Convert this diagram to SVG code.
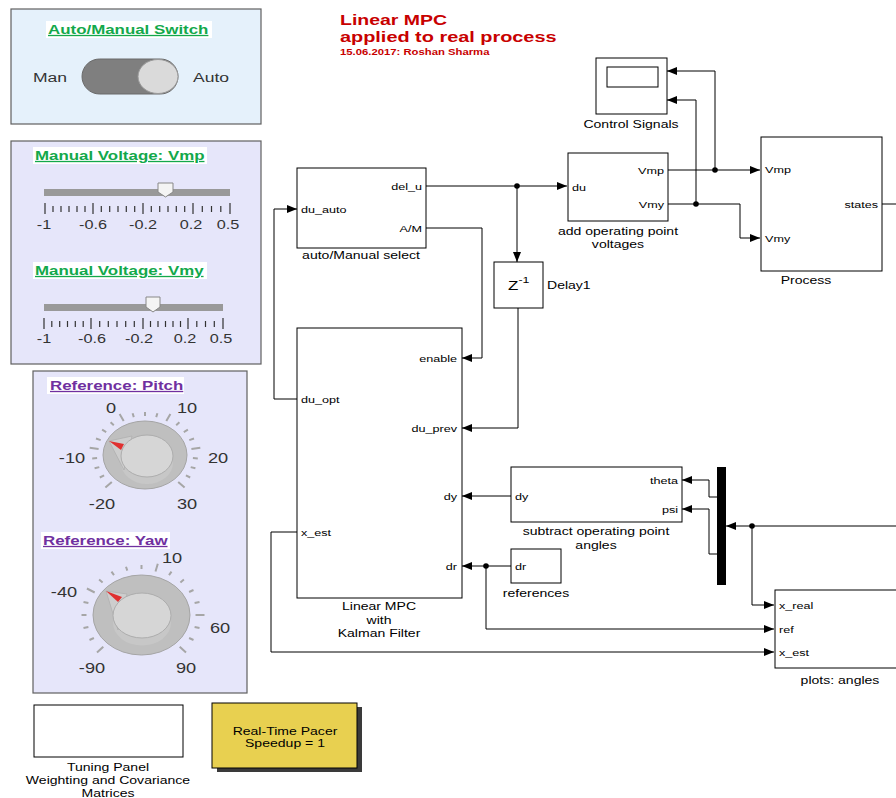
<svg xmlns="http://www.w3.org/2000/svg" width="896" height="798" viewBox="0 0 896 798">
<defs>
<marker id="ah" markerUnits="userSpaceOnUse" markerWidth="10" markerHeight="8" refX="10" refY="4" orient="auto">
<path d="M0,0 L10,4 L0,8 z" fill="#000"/>
</marker>
<style>
text{font-family:"Liberation Sans",Arial,Helvetica,sans-serif;fill:#000}
.port{font-size:9.7px}
.lbl{font-size:10.8px;text-anchor:middle}
.e{text-anchor:end}
.m{text-anchor:middle}
.blk{fill:#fff;stroke:#000;stroke-width:1}
.ln{fill:none;stroke:#000;stroke-width:1}
.arr{marker-end:url(#ah)}
.panel{stroke:#606060;stroke-width:1.2}
.ptitle{font-size:13px;font-weight:bold;text-decoration:underline}
.g{fill:#13a84b}
.pu{fill:#7030a0}
.sl{font-size:12.5px;fill:#333;text-anchor:middle}
.kl{font-size:14px;fill:#333;text-anchor:middle}
.tk{stroke:#333;stroke-width:1.2}
.ktk{stroke:#a6a6a6;stroke-width:2}
.dot{fill:#000}
</style>
</defs>
<rect x="0" y="0" width="896" height="798" fill="#fff"/>

<!-- Title -->
<g id="title">
<text transform="translate(340 25) scale(1.3 1)" style="font-size:15px;font-weight:bold;fill:#c80000">Linear MPC</text>
<text transform="translate(340 42) scale(1.3 1)" style="font-size:15.3px;font-weight:bold;fill:#c80000">applied to real process</text>
<text transform="translate(340 55) scale(1.3 1)" style="font-size:8.7px;font-weight:bold;fill:#c80000">15.06.2017: Roshan Sharma</text>
</g>

<!-- Auto/Manual switch panel -->
<g id="panel-switch">
<rect class="panel" x="11" y="9" width="250" height="115" fill="#e5f1fb"/>
<rect x="46" y="21" width="166" height="17" fill="#fff"/>
<text class="ptitle g" transform="translate(48 34) scale(1.3 1)">Auto/Manual Switch</text>
<text transform="translate(33 82) scale(1.3 1)" style="font-size:13.5px;fill:#333">Man</text>
<text transform="translate(193 82) scale(1.3 1)" style="font-size:13.5px;fill:#333">Auto</text>
<rect x="82" y="59" width="96" height="35" rx="17.5" ry="17.5" fill="#7f7f7f" stroke="#6a6a6a"/>
<ellipse cx="158" cy="76.5" rx="20" ry="17" fill="#dadada" stroke="#9a9a9a"/>
</g>

<!-- Manual voltage panel -->
<g id="panel-voltage">
<rect class="panel" x="11" y="141" width="250" height="223" fill="#e6e6fa"/>
<rect x="33" y="147" width="174" height="17" fill="#fff"/>
<text class="ptitle g" transform="translate(35 160) scale(1.3 1)">Manual Voltage: Vmp</text>
<rect x="44" y="189" width="186" height="7" fill="#999"/>
<path d="M158,183 H173 V192 L165.5,197 L158,192 Z" fill="#f4f4f4" stroke="#888"/>
<path class="tk" d="M45,203v11 M93,203v11 M143,203v11 M193,203v11 M230,203v11 M53,206v6 M61,206v6 M69,206v6 M77,206v6 M85,206v6 M101.3,206v6 M109.7,206v6 M118,206v6 M126.3,206v6 M134.7,206v6 M151.3,206v6 M159.7,206v6 M168,206v6 M176.3,206v6 M184.7,206v6 M202.3,206v6 M211.5,206v6 M220.8,206v6"/>
<text class="sl" transform="translate(44 229) scale(1.3 1)">-1</text>
<text class="sl" transform="translate(93 229) scale(1.3 1)">-0.6</text>
<text class="sl" transform="translate(143 229) scale(1.3 1)">-0.2</text>
<text class="sl" transform="translate(191 229) scale(1.3 1)">0.2</text>
<text class="sl" transform="translate(228 229) scale(1.3 1)">0.5</text>
<rect x="33" y="262" width="174" height="17" fill="#fff"/>
<text class="ptitle g" transform="translate(35 275) scale(1.3 1)">Manual Voltage: Vmy</text>
<rect x="44" y="304" width="179" height="7" fill="#999"/>
<path d="M146,297 H160 V307 L153,312 L146,307 Z" fill="#f4f4f4" stroke="#888"/>
<path class="tk" d="M44,318v11 M91,318v11 M143,318v11 M188,318v11 M223,318v11 M51.8,321v6 M59.7,321v6 M67.5,321v6 M75.3,321v6 M83.2,321v6 M99.7,321v6 M108.3,321v6 M117,321v6 M125.7,321v6 M134.3,321v6 M150.5,321v6 M158,321v6 M165.5,321v6 M173,321v6 M180.5,321v6 M196.8,321v6 M205.5,321v6 M214.3,321v6"/>
<text class="sl" transform="translate(44 343) scale(1.3 1)">-1</text>
<text class="sl" transform="translate(92 343) scale(1.3 1)">-0.6</text>
<text class="sl" transform="translate(139 343) scale(1.3 1)">-0.2</text>
<text class="sl" transform="translate(185 343) scale(1.3 1)">0.2</text>
<text class="sl" transform="translate(221 343) scale(1.3 1)">0.5</text>
</g>

<!-- Reference panel -->
<g id="panel-reference">
<rect class="panel" x="33" y="371" width="214" height="322" fill="#e6e6fa"/>
<rect x="47" y="377" width="137" height="17" fill="#fff"/>
<text class="ptitle pu" transform="translate(50 390) scale(1.3 1)">Reference: Pitch</text>
<ellipse cx="145" cy="455" rx="42" ry="34" fill="#bfbfbf" stroke="#a5a5a5"/>
<path class="ktk" d="M111.8,481.9L105.4,487.5 M104.1,475.4L99.8,477.5 M99.3,467.1L94.6,468.3 M97.1,458.1L92.2,458.4 M98.6,449.1L89.7,447.8 M100.7,440.1L96,438.5 M106.2,432.1L102.1,429.7 M113.8,425.3L110.6,422.3 M123.7,421.1L119.6,414 M133.8,417.1L132.6,413.2 M145,416L145,412 M156.2,417.1L157.4,413.2 M166.3,421.1L170.4,414 M176.2,425.3L179.4,422.3 M183.8,432.1L187.9,429.7 M189.3,440.1L194,438.5 M191.4,449.1L200.3,447.8 M192.9,458.1L197.8,458.4 M190.7,467.1L195.4,468.3 M185.9,475.4L190.2,477.5 M178.2,481.9L184.6,487.5"/>
<ellipse cx="147" cy="463" rx="26" ry="21" fill="#c7c7c7"/>
<path d="M109,441 L132,436 L124,470 Z" fill="#cdcdcd" stroke="#b0b0b0" stroke-width="0.8"/>
<ellipse cx="147" cy="456" rx="26" ry="21" fill="#d6d6d6" stroke="#adadad"/>
<path d="M109,441 L124,444 L121,450 Z" fill="#e03030"/>
<text class="kl" transform="translate(111 413) scale(1.3 1)">0</text>
<text class="kl" transform="translate(187 413) scale(1.3 1)">10</text>
<text class="kl" transform="translate(72 463) scale(1.3 1)">-10</text>
<text class="kl" transform="translate(218 463) scale(1.3 1)">20</text>
<text class="kl" transform="translate(102 509) scale(1.3 1)">-20</text>
<text class="kl" transform="translate(187 509) scale(1.3 1)">30</text>

<rect x="41" y="532" width="129" height="17" fill="#fff"/>
<text class="ptitle pu" transform="translate(43 545) scale(1.3 1)">Reference: Yaw</text>
<ellipse cx="141.5" cy="615" rx="48.5" ry="40" fill="#bfbfbf" stroke="#a5a5a5"/>
<path class="ktk" d="M103.3,646.8L97,652.5 M93.9,638L89.5,640 M88.4,626.9L83.5,627.9 M86.5,615L81.5,615 M88.4,603.1L83.5,602.1 M94.7,592.5L86.9,588.5 M102.6,582.5L99.1,579.6 M114,575.2L111.5,571.7 M127.3,570.6L126,566.7 M141.5,569L141.5,565 M155.5,571.5L157.8,563.8 M169,575.2L171.5,571.7 M180.4,582.5L183.9,579.6 M189.1,592L193.5,590 M194.6,603.1L199.5,602.1 M195.5,615L204.5,615 M194.6,626.9L199.5,627.9 M189.1,638L193.5,640 M179.7,646.8L186,652.5"/>
<ellipse cx="142" cy="623" rx="29" ry="22.5" fill="#c7c7c7"/>
<path d="M106,591 L127,594 L118,630 Z" fill="#cdcdcd" stroke="#b0b0b0" stroke-width="0.8"/>
<ellipse cx="142" cy="615.5" rx="29" ry="22.5" fill="#d6d6d6" stroke="#adadad"/>
<path d="M106,591 L122,597 L118,602 Z" fill="#e03030"/>
<text class="kl" transform="translate(172 563) scale(1.3 1)">10</text>
<text class="kl" transform="translate(64 597) scale(1.3 1)">-40</text>
<text class="kl" transform="translate(220 633) scale(1.3 1)">60</text>
<text class="kl" transform="translate(92 673) scale(1.3 1)">-90</text>
<text class="kl" transform="translate(186 673) scale(1.3 1)">90</text>
</g>

<!-- Tuning panel -->
<g id="tuning-panel">
<rect class="blk" x="34" y="705" width="149" height="52"/>
<text class="lbl" transform="translate(108 771) scale(1.3 1)">Tuning Panel</text>
<text class="lbl" transform="translate(108 784) scale(1.3 1)">Weighting and Covariance</text>
<text class="lbl" transform="translate(108 797) scale(1.3 1)">Matrices</text>
</g>

<!-- Real-time pacer -->
<g id="pacer">
<rect x="217" y="707" width="145" height="65" fill="#3a3a3a"/>
<rect x="212" y="703" width="145" height="65" fill="#e8d050" stroke="#000"/>
<text class="lbl" transform="translate(285 735) scale(1.3 1)">Real-Time Pacer</text>
<text class="lbl" transform="translate(285 747) scale(1.3 1)">Speedup = 1</text>
</g>

<!-- Control Signals scope -->
<g id="scope">
<rect class="blk" x="596" y="58" width="71" height="56"/>
<rect class="blk" x="607" y="67" width="51" height="20"/>
<text class="lbl" transform="translate(631 128) scale(1.3 1)">Control Signals</text>
</g>

<!-- auto/Manual select -->
<g id="am-select">
<rect class="blk" x="297" y="168" width="129" height="80"/>
<text class="port e" transform="translate(422 189.5) scale(1.3 1)">del_u</text>
<text class="port" transform="translate(301 212.5) scale(1.3 1)">du_auto</text>
<text class="port e" transform="translate(422 231.5) scale(1.3 1)">A/M</text>
<text class="lbl" transform="translate(361 259) scale(1.3 1)">auto/Manual select</text>
</g>

<!-- Delay -->
<g id="delay">
<rect class="blk" x="494" y="262" width="49" height="46"/>
<text transform="translate(508 290) scale(1.3 1)" style="font-size:13px">Z</text>
<text transform="translate(518.5 283) scale(1.3 1)" style="font-size:9.5px">-1</text>
<text class="port" transform="translate(547 289) scale(1.3 1)" style="font-size:10.8px">Delay1</text>
</g>

<!-- Linear MPC -->
<g id="mpc">
<rect class="blk" x="297" y="328" width="165" height="270"/>
<text class="port e" transform="translate(457 361.5) scale(1.3 1)">enable</text>
<text class="port" transform="translate(301 402.5) scale(1.3 1)">du_opt</text>
<text class="port e" transform="translate(457 431.5) scale(1.3 1)">du_prev</text>
<text class="port e" transform="translate(457 499.5) scale(1.3 1)">dy</text>
<text class="port" transform="translate(301 535.5) scale(1.3 1)">x_est</text>
<text class="port e" transform="translate(457 569.5) scale(1.3 1)">dr</text>
<text class="lbl" transform="translate(379 610) scale(1.3 1)">Linear MPC</text>
<text class="lbl" transform="translate(379 623.5) scale(1.3 1)">with</text>
<text class="lbl" transform="translate(379 637) scale(1.3 1)">Kalman Filter</text>
</g>

<!-- add operating point voltages -->
<g id="add-op">
<rect class="blk" x="568" y="153" width="100" height="68"/>
<text class="port e" transform="translate(664 173.5) scale(1.3 1)">Vmp</text>
<text class="port" transform="translate(572 190.5) scale(1.3 1)">du</text>
<text class="port e" transform="translate(664 207.5) scale(1.3 1)">Vmy</text>
<text class="lbl" transform="translate(618 235) scale(1.3 1)">add operating point</text>
<text class="lbl" transform="translate(618 248) scale(1.3 1)">voltages</text>
</g>

<!-- Process -->
<g id="process">
<rect class="blk" x="761" y="137" width="121" height="134"/>
<text class="port" transform="translate(765 172.5) scale(1.3 1)">Vmp</text>
<text class="port" transform="translate(765 241.5) scale(1.3 1)">Vmy</text>
<text class="port e" transform="translate(878 207.5) scale(1.3 1)">states</text>
<text class="lbl" transform="translate(806 284) scale(1.3 1)">Process</text>
</g>

<!-- subtract operating point angles -->
<g id="subtract">
<rect class="blk" x="511" y="467" width="171" height="55"/>
<text class="port e" transform="translate(678 483.5) scale(1.3 1)">theta</text>
<text class="port" transform="translate(515 499.5) scale(1.3 1)">dy</text>
<text class="port e" transform="translate(678 512.5) scale(1.3 1)">psi</text>
<text class="lbl" transform="translate(596 535) scale(1.3 1)">subtract operating point</text>
<text class="lbl" transform="translate(596 549) scale(1.3 1)">angles</text>
</g>

<!-- references -->
<g id="references">
<rect class="blk" x="511" y="549" width="50" height="34"/>
<text class="port" transform="translate(515 569.5) scale(1.3 1)">dr</text>
<text class="lbl" transform="translate(536 597) scale(1.3 1)">references</text>
</g>

<!-- Demux bar -->
<g id="demux">
<rect x="717" y="467" width="9" height="118" fill="#000"/>
</g>

<!-- plots: angles -->
<g id="plots">
<rect class="blk" x="775" y="590" width="130" height="78"/>
<text class="port" transform="translate(779 608.5) scale(1.3 1)">x_real</text>
<text class="port" transform="translate(779 632.5) scale(1.3 1)">ref</text>
<text class="port" transform="translate(779 655.5) scale(1.3 1)">x_est</text>
<text class="lbl" transform="translate(840 684) scale(1.3 1)">plots: angles</text>
</g>

<!-- Connectors -->
<g id="connectors">
<path class="ln arr" d="M426,186 H567"/>
<path class="ln arr" d="M517,186 V262"/>
<path class="ln arr" d="M426,228 H482 V358 H462"/>
<path class="ln arr" d="M297,399 H274 V209 H297"/>
<path class="ln arr" d="M518,308 V428 H462"/>
<path class="ln arr" d="M668,170 H760"/>
<path class="ln arr" d="M715,170 V71 H667"/>
<path class="ln arr" d="M668,204 H740 V238 H760"/>
<path class="ln arr" d="M696,204 V100 H667"/>
<path class="ln" d="M882,204 H896"/>
<path class="ln arr" d="M511,496 H462"/>
<path class="ln arr" d="M511,566 H462"/>
<path class="ln arr" d="M486,566 V629 H774"/>
<path class="ln arr" d="M297,532 H271 V652 H774"/>
<path class="ln arr" d="M717,497 H709 V480 H682"/>
<path class="ln arr" d="M717,554 H709 V509 H682"/>
<path class="ln arr" d="M896,526 H726"/>
<path class="ln arr" d="M752,526 V605 H774"/>
<circle class="dot" cx="517" cy="186" r="2.8"/>
<circle class="dot" cx="715" cy="170" r="2.8"/>
<circle class="dot" cx="696" cy="204" r="2.8"/>
<circle class="dot" cx="486" cy="566" r="2.8"/>
<circle class="dot" cx="752" cy="526" r="2.8"/>
</g>
</svg>
